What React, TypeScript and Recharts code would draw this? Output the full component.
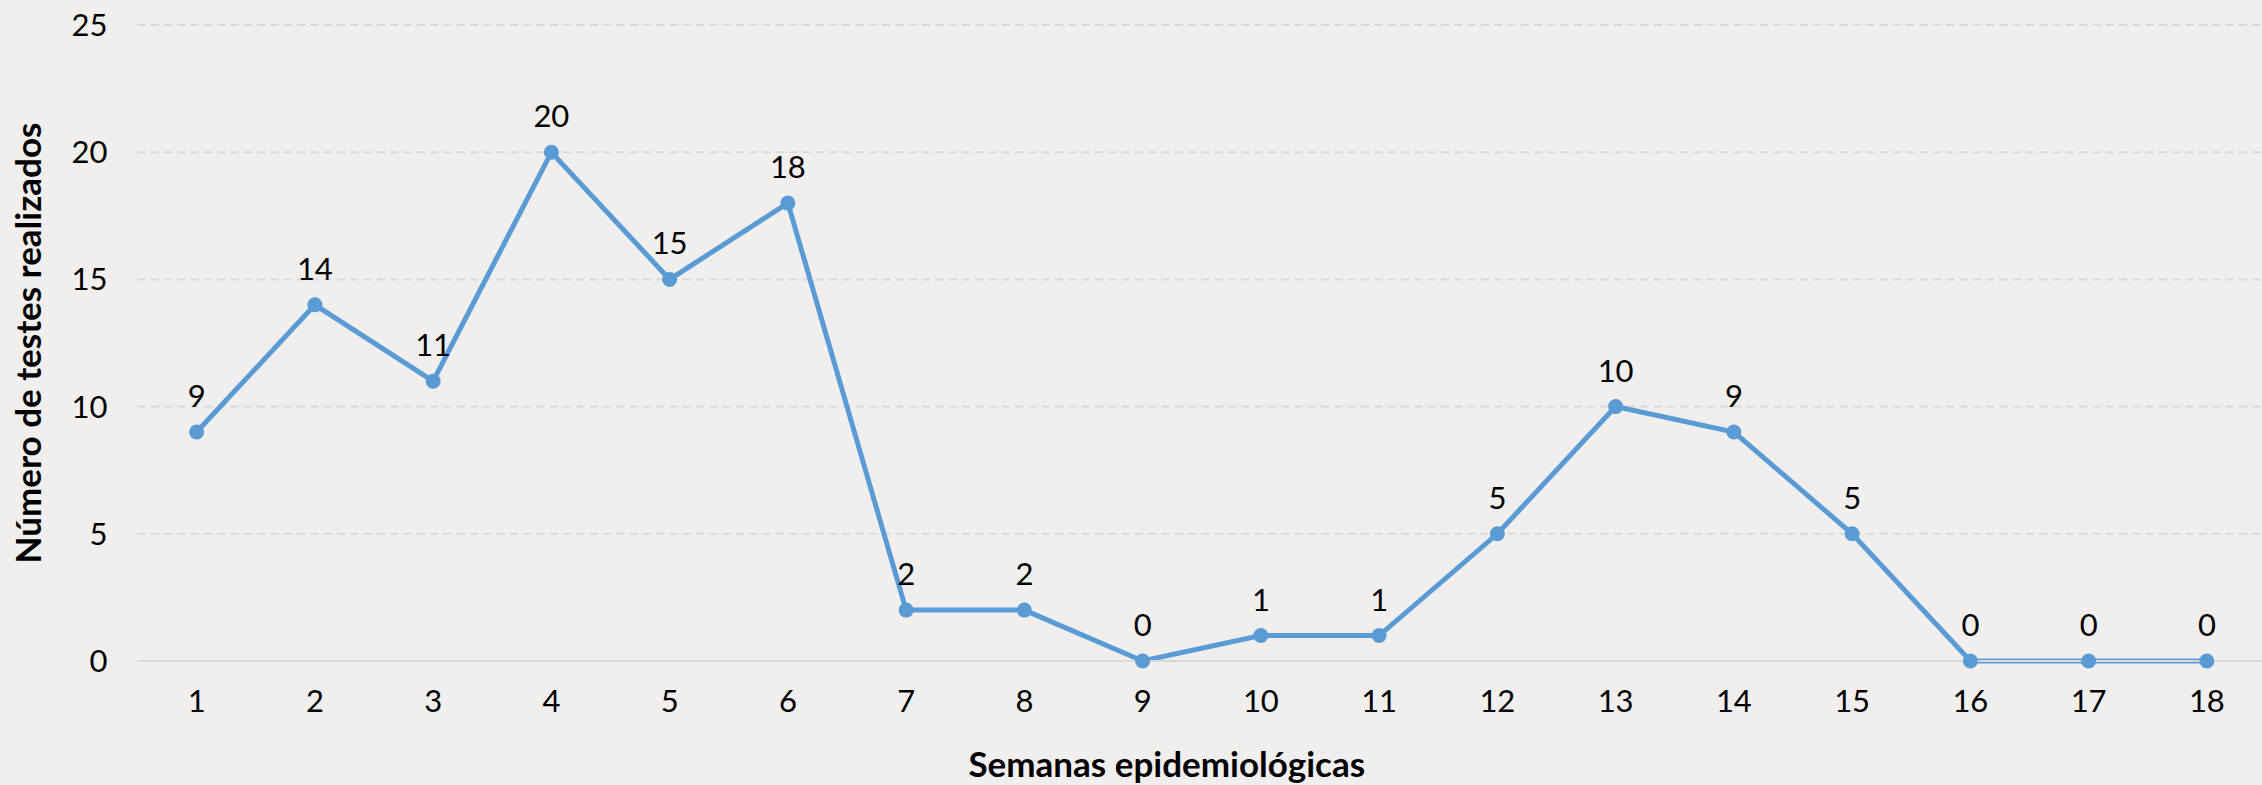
import React from 'react';
import { LineChart, Line, XAxis, YAxis, CartesianGrid, LabelList } from 'recharts';

const weeks = ['1','2','3','4','5','6','7','8','9','10','11','12','13','14','15','16','17','18'];
const tests = [9, 14, 11, 20, 15, 18, 2, 2, 0, 1, 1, 5, 10, 9, 5, 0, 0, 0];
const yTicks = [0, 5, 10, 15, 20, 25];

const data = weeks.map((w, i) => ({ week: w, value: tests[i] }));

const FONT = 'Lato, "Open Sans", sans-serif';

export default function App() {
  return (
    <div style={{ position: 'absolute', left: 0, top: 0, width: 2262, height: 785, background: '#f0efee', overflow: 'hidden' }}>
      <LineChart
        width={2262}
        height={785}
        data={data}
        margin={{ top: 25, right: -4, bottom: 0, left: 0 }}
      >
        <CartesianGrid vertical={false} stroke="#d9d9d9" strokeWidth={2} strokeDasharray="8 5.3" />
        <XAxis
          dataKey="week"
          scale="band"
          height={124}
          tickLine={false}
          axisLine={{ stroke: '#d9d9d9', strokeWidth: 2 }}
          tickSize={0}
          tickMargin={29}
          interval={0}
          tick={{ fill: '#000', fontSize: 31, fontFamily: FONT }}
          label={{ value: 'Semanas epidemiológicas', position: 'insideBottom', offset: 8, dx: -35, fill: '#000', fontSize: 35, fontWeight: 700, fontFamily: FONT }}
        />
        <YAxis
          width={137.5}
          domain={[0, 25]}
          ticks={yTicks}
          tickLine={false}
          axisLine={false}
          tickSize={0}
          tickMargin={30}
          tick={{ fill: '#000', fontSize: 31, fontFamily: FONT }}
          label={{ value: 'Número de testes realizados', angle: -90, position: 'center', dx: -40, fill: '#000', fontSize: 35, fontWeight: 700, fontFamily: FONT }}
        />
        <Line
          type="linear"
          dataKey="value"
          stroke="#5b9bd5"
          strokeWidth={5}
          dot={{ r: 7.5, fill: '#5b9bd5', stroke: '#5b9bd5', strokeWidth: 0 }}
          activeDot={false}
          isAnimationActive={false}
        >
          <LabelList dataKey="value" position="top" offset={25} fill="#000" fontSize={31} fontFamily={FONT} />
        </Line>
      </LineChart>
    </div>
  );
}
